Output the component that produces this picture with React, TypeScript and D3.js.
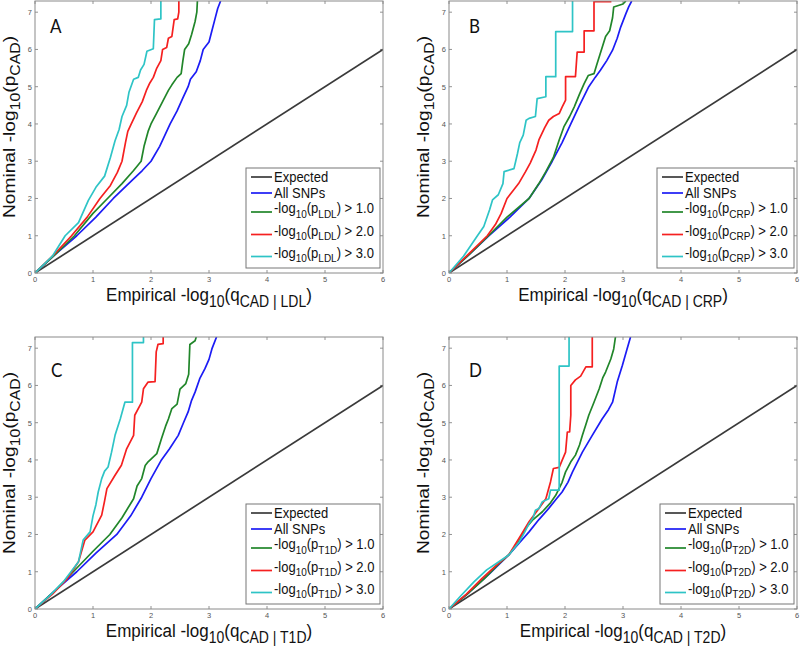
import React from "react";
import * as d3 from "d3";

// ---------- data ----------
const xTicks = [0, 1, 2, 3, 4, 5, 6];
const yTicks = [0, 1, 2, 3, 4, 5, 6, 7];
const X_MAX = 6;
const Y_MAX = 7.3;
const panelLetters = ["A", "B", "C", "D"];
const traitNames = ["LDL", "CRP", "T1D", "T2D"];
const thresholds = ["1.0", "2.0", "3.0"];
const seriesNames = ["Expected", "All SNPs"];
const expectedLine: [number, number][] = [[0, 0], [6, 6]];

const aAll: [number, number][] = [[0,0],[0.35,0.5],[0.72,1.0],[1.05,1.5],[1.35,2.0],[1.65,2.45],[1.85,2.75],[2.0,3.0],[2.15,3.4],[2.33,4.0],[2.45,4.35],[2.55,4.7],[2.64,5.0],[2.68,5.2],[2.78,5.4],[2.85,5.7],[2.9,6.0],[3.0,6.2],[3.05,6.5],[3.1,6.8],[3.15,7.1],[3.2,7.3]];
const aP1: [number, number][] = [[0,0],[0.35,0.5],[0.68,1.0],[1.0,1.6],[1.25,2.0],[1.5,2.4],[1.7,2.75],[1.83,3.0],[1.88,3.4],[1.95,3.8],[2.0,4.0],[2.1,4.3],[2.2,4.6],[2.3,4.9],[2.36,5.05],[2.45,5.25],[2.52,5.35],[2.55,5.7],[2.58,6.0],[2.65,6.15],[2.7,6.4],[2.76,6.75],[2.79,7.0],[2.8,7.3]];
const aP2: [number, number][] = [[0,0],[0.3,0.45],[0.63,1.0],[0.9,1.5],[1.12,2.0],[1.3,2.35],[1.42,2.7],[1.5,3.0],[1.56,3.5],[1.6,3.8],[1.66,4.0],[1.75,4.3],[1.85,4.6],[1.92,4.9],[1.98,5.1],[2.04,5.25],[2.1,5.5],[2.17,5.7],[2.2,6.0],[2.27,6.05],[2.3,6.3],[2.36,6.35],[2.4,6.8],[2.46,6.82],[2.48,7.0],[2.48,7.3]];
const aP3: [number, number][] = [[0,0],[0.3,0.45],[0.52,1.0],[0.75,1.35],[0.92,1.95],[1.05,2.3],[1.2,2.6],[1.3,3.1],[1.38,3.55],[1.45,3.85],[1.5,4.2],[1.58,4.5],[1.62,4.85],[1.7,5.2],[1.78,5.25],[1.82,5.45],[1.88,5.6],[1.93,5.95],[2.04,6.02],[2.06,6.8],[2.17,6.82],[2.17,7.3]];

const bAll: [number, number][] = [[0,0],[0.35,0.5],[0.69,1.0],[1.05,1.5],[1.38,2.0],[1.6,2.5],[1.78,3.0],[1.95,3.5],[2.1,4.0],[2.25,4.5],[2.41,5.0],[2.52,5.25],[2.61,5.44],[2.72,5.7],[2.82,5.98],[2.9,6.3],[2.96,6.6],[3.05,6.96],[3.1,7.15],[3.15,7.3]];
const bP1: [number, number][] = [[0,0],[0.35,0.5],[0.68,1.0],[1.0,1.5],[1.38,2.0],[1.55,2.4],[1.67,2.72],[1.8,3.1],[1.9,3.57],[1.98,3.92],[2.08,4.2],[2.16,4.46],[2.25,4.8],[2.33,5.08],[2.4,5.3],[2.5,5.35],[2.55,5.6],[2.6,5.85],[2.65,6.1],[2.7,6.35],[2.77,6.5],[2.82,6.85],[2.84,7.14],[3.0,7.22],[3.05,7.3]];
const bP2: [number, number][] = [[0,0],[0.3,0.45],[0.66,1.0],[0.8,1.3],[0.9,1.6],[1.0,2.0],[1.1,2.2],[1.2,2.4],[1.32,2.72],[1.4,2.95],[1.5,3.3],[1.55,3.57],[1.65,3.9],[1.72,4.1],[1.8,4.2],[1.9,4.28],[1.95,4.45],[2.01,4.64],[2.01,5.27],[2.18,5.27],[2.21,5.93],[2.33,5.93],[2.33,6.5],[2.5,6.5],[2.5,7.28],[2.8,7.28]];
const bP3: [number, number][] = [[0,0],[0.25,0.45],[0.49,1.0],[0.6,1.25],[0.7,1.7],[0.75,1.96],[0.85,2.1],[0.93,2.4],[0.95,2.72],[1.12,2.8],[1.15,3.0],[1.18,3.2],[1.22,3.5],[1.28,3.7],[1.33,4.1],[1.38,4.15],[1.49,4.2],[1.52,4.68],[1.67,4.73],[1.67,5.27],[1.84,5.27],[1.84,6.48],[2.13,6.48],[2.13,7.3]];

const cAll: [number, number][] = [[0,0],[0.35,0.5],[0.72,1.0],[1.05,1.5],[1.41,2.0],[1.65,2.5],[1.84,3.0],[2.0,3.5],[2.18,4.0],[2.32,4.3],[2.47,4.66],[2.56,5.0],[2.64,5.29],[2.7,5.6],[2.76,5.82],[2.84,6.18],[2.93,6.45],[3.0,6.7],[3.05,6.98],[3.13,7.3]];
const cP1: [number, number][] = [[0,0],[0.35,0.5],[0.66,1.0],[1.0,1.55],[1.29,2.0],[1.5,2.45],[1.7,2.96],[1.76,3.3],[1.84,3.5],[1.9,3.85],[1.95,3.95],[2.1,4.17],[2.18,4.57],[2.25,4.9],[2.3,5.1],[2.36,5.38],[2.45,5.5],[2.5,5.9],[2.6,6.05],[2.65,6.3],[2.67,7.1],[2.76,7.2],[2.78,7.3]];
const cP2: [number, number][] = [[0,0],[0.3,0.4],[0.55,0.8],[0.75,1.27],[0.86,1.85],[1.0,2.07],[1.15,2.52],[1.2,2.9],[1.24,3.23],[1.38,3.59],[1.49,3.86],[1.58,4.3],[1.7,4.66],[1.72,5.2],[1.84,5.55],[1.87,5.91],[1.95,6.09],[2.07,6.1],[2.09,6.9],[2.12,7.1],[2.21,7.12],[2.21,7.3]];
const cP3: [number, number][] = [[0,0],[0.25,0.35],[0.5,0.75],[0.75,1.27],[0.83,1.85],[0.95,2.07],[1.0,2.5],[1.05,2.8],[1.09,3.14],[1.15,3.5],[1.2,3.7],[1.26,3.81],[1.32,4.21],[1.38,4.66],[1.47,5.1],[1.55,5.55],[1.68,5.55],[1.68,7.15],[1.87,7.15],[1.87,7.3]];

const dAll: [number, number][] = [[0,0],[0.35,0.45],[0.7,0.95],[1.03,1.45],[1.2,1.75],[1.38,2.07],[1.55,2.4],[1.72,2.7],[1.85,2.95],[1.95,3.14],[2.05,3.4],[2.13,3.68],[2.3,4.21],[2.47,4.66],[2.64,5.1],[2.75,5.35],[2.82,5.55],[2.9,6.09],[2.99,6.54],[3.07,6.98],[3.13,7.3]];
const dP1: [number, number][] = [[0,0],[0.3,0.38],[0.6,0.8],[0.85,1.2],[1.03,1.45],[1.2,1.8],[1.32,2.16],[1.45,2.4],[1.61,2.61],[1.75,2.85],[1.84,3.05],[1.95,3.4],[2.01,3.68],[2.1,3.95],[2.18,4.13],[2.25,4.4],[2.3,4.66],[2.36,4.95],[2.41,5.2],[2.5,5.55],[2.59,5.91],[2.65,6.2],[2.7,6.36],[2.79,6.71],[2.84,6.98],[2.87,7.3]];
const dP2: [number, number][] = [[0,0],[0.3,0.4],[0.57,0.82],[0.8,1.15],[1.03,1.45],[1.24,1.98],[1.38,2.34],[1.55,2.7],[1.67,2.96],[1.75,3.41],[1.8,3.77],[1.9,3.8],[1.95,3.99],[2.01,4.21],[2.04,4.75],[2.08,4.75],[2.1,5.2],[2.1,6.0],[2.18,6.15],[2.27,6.25],[2.36,6.5],[2.47,6.5],[2.47,7.3]];
const dP3: [number, number][] = [[0,0],[0.2,0.35],[0.43,0.73],[0.65,1.05],[0.86,1.27],[1.03,1.45],[1.21,1.8],[1.3,2.05],[1.38,2.29],[1.45,2.45],[1.49,2.65],[1.55,2.7],[1.61,2.88],[1.72,2.96],[1.75,3.19],[1.9,3.19],[1.9,6.52],[2.07,6.52],[2.07,7.3]];

const panelSeries = [
  [aAll, aP1, aP2, aP3],
  [bAll, bP1, bP2, bP3],
  [cAll, cP1, cP2, cP3],
  [dAll, dP1, dP2, dP3],
];

// ---------- styles / layout ----------
const COLORS = ["#1c1cf5", "#21862a", "#f52020", "#2ec4c6"];
const EXPECTED_COLOR = "#3a3a3a";
const FONT = "Liberation Sans, Arial, Helvetica, sans-serif";
const STRETCH = 1.13;
const PW = 348;
const PH = 272;
const panelPos = [
  { left: 35, top: 1, lx: 50, ly: 33 },
  { left: 449, top: 1, lx: 469, ly: 33 },
  { left: 35, top: 337, lx: 51, ly: 377 },
  { left: 449, top: 337, lx: 469, ly: 377 },
];
const legendRows = [9, 25, 44, 66.5, 88.5];

type Part = [string, boolean];

let measureCtx: CanvasRenderingContext2D | null = null;
function measure(parts: Part[], size: number, subSize: number): number {
  if (!measureCtx) {
    const c = document.createElement("canvas");
    measureCtx = c.getContext("2d");
  }
  if (!measureCtx) return 100;
  let w = 0;
  for (const [t, sub] of parts) {
    measureCtx.font = `${sub ? subSize : size}px 'Liberation Sans', Arial`;
    w += measureCtx.measureText(t).width;
  }
  return w;
}

function RichText({ x, y, parts, size, subSize, shift, anchor = "start", rotate = false, fill = "#111" }:
  { x: number; y: number; parts: Part[]; size: number; subSize: number; shift: number; anchor?: string; rotate?: boolean; fill?: string }) {
  let prevSub = false;
  const spans = parts.map(([t, sub], i) => {
    let dy = 0;
    if (sub && !prevSub) dy = shift;
    if (!sub && prevSub) dy = -shift;
    prevSub = sub;
    return (
      <tspan key={i} dy={dy} fontSize={sub ? subSize : size}>{t}</tspan>
    );
  });
  const tr = `translate(${x},${y}) scale(1,${STRETCH})${rotate ? " rotate(-90)" : ""}`;
  return (
    <text transform={tr} textAnchor={anchor as any} fontFamily={FONT} fontSize={size} fill={fill} style={{ whiteSpace: "pre" }}>
      {spans}
    </text>
  );
}

function Panel({ idx }: { idx: number }) {
  const pos = panelPos[idx];
  const trait = traitNames[idx];
  const series = panelSeries[idx];
  const x = d3.scaleLinear().domain([0, X_MAX]).range([pos.left, pos.left + PW]);
  const y = d3.scaleLinear().domain([0, Y_MAX]).range([pos.top + PH, pos.top]);
  const line = d3.line<[number, number]>().x((d) => x(d[0])).y((d) => y(d[1]));
  const bottom = pos.top + PH;
  const right = pos.left + PW;
  const tickLen = 3;

  const legendLabels: Part[][] = [
    [[seriesNames[0], false]],
    [[seriesNames[1], false]],
    ...thresholds.map((t): Part[] => [["-log", false], ["10", true], ["(p", false], [trait, true], [`) > ${t}`, false]]),
  ];
  const textW = Math.max(...legendLabels.map((p) => measure(p, 13, 10)));
  const legW = Math.round(28 + textW + 6);
  const legH = 100;
  const legX = right - 3 - legW;
  const legY = bottom - 5 - legH;
  const legColors = [EXPECTED_COLOR, ...COLORS];

  const clipId = `clip${idx}`;
  return (
    <g>
      <defs>
        <clipPath id={clipId}>
          <rect x={pos.left} y={pos.top} width={PW} height={PH} />
        </clipPath>
      </defs>
      <rect x={pos.left} y={pos.top} width={PW} height={PH} fill="#fff" />
      {/* ticks */}
      {xTicks.map((t) => (
        <g key={"xt" + t}>
          <line x1={x(t)} x2={x(t)} y1={bottom} y2={bottom - tickLen} stroke="#777" strokeWidth={0.8} />
          <line x1={x(t)} x2={x(t)} y1={pos.top} y2={pos.top + tickLen} stroke="#777" strokeWidth={0.8} />
          <text x={x(t)} y={bottom + 8.5} fontSize={7.5} textAnchor="middle" fill="#555" fontFamily={FONT}>{t}</text>
        </g>
      ))}
      {yTicks.map((t) => (
        <g key={"yt" + t}>
          <line x1={pos.left} x2={pos.left + tickLen} y1={y(t)} y2={y(t)} stroke="#777" strokeWidth={0.8} />
          <line x1={right} x2={right - tickLen} y1={y(t)} y2={y(t)} stroke="#777" strokeWidth={0.8} />
          <text x={pos.left - 3} y={y(t) + 3} fontSize={7.5} textAnchor="end" fill="#555" fontFamily={FONT}>{t}</text>
        </g>
      ))}
      <g clipPath={`url(#${clipId})`}>
        <path d={line(expectedLine) || ""} fill="none" stroke={EXPECTED_COLOR} strokeWidth={1.7} />
        {series.map((s, i) => (
          <path key={i} d={line(s) || ""} fill="none" stroke={COLORS[i]} strokeWidth={1.7} strokeLinejoin="round" />
        ))}
      </g>
      <rect x={pos.left} y={pos.top} width={PW} height={PH} fill="none" stroke="#8a8a8a" strokeWidth={1} />
      {/* legend */}
      <rect x={legX} y={legY} width={legW} height={legH} fill="#fff" stroke="#777" strokeWidth={1} />
      {legendLabels.map((parts, i) => {
        const ly = legY + legendRows[i];
        const plain = i < 2;
        return (
          <g key={"lg" + i}>
            <line x1={legX + 5} x2={legX + 26} y1={ly} y2={ly} stroke={legColors[i]} strokeWidth={1.7} />
            <RichText x={legX + 28} y={ly + (plain ? 4.5 : 1)} parts={parts} size={13} subSize={10} shift={4} />
          </g>
        );
      })}
      {/* panel letter */}
      <text transform={`translate(${pos.lx},${pos.ly}) scale(1,${STRETCH})`} fontSize={17} fontFamily="Lato, 'Open Sans', sans-serif" fill="#111">
        {panelLetters[idx]}
      </text>
      {/* axis titles */}
      <RichText
        x={(pos.left + right) / 2}
        y={bottom + 28}
        anchor="middle"
        size={17}
        subSize={14}
        shift={5}
        parts={[["Empirical -log", false], ["10", true], ["(q", false], [`CAD | ${trait}`, true], [")", false]]}
      />
      <RichText
        x={pos.left - 20}
        y={(pos.top + bottom) / 2 - 10}
        anchor="middle"
        rotate
        size={17}
        subSize={14}
        shift={5}
        parts={[["Nominal -log", false], ["10", true], ["(p", false], ["CAD", true], [")", false]]}
      />
    </g>
  );
}

export default function App() {
  return (
    <svg width={800} height={647} style={{ position: "absolute", left: 0, top: 0, background: "#fff" }}>
      <rect width={800} height={647} fill="#fff" />
      {[0, 1, 2, 3].map((i) => (
        <Panel key={i} idx={i} />
      ))}
    </svg>
  );
}
